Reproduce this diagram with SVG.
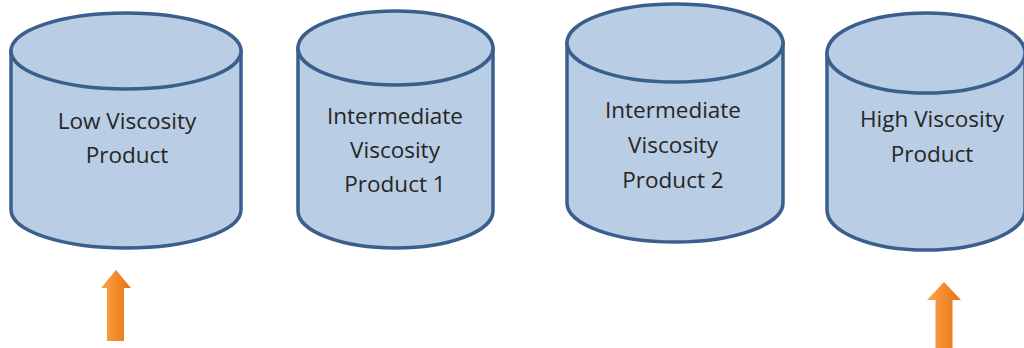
<svg xmlns="http://www.w3.org/2000/svg" width="1024" height="348" viewBox="0 0 1024 348">
<defs>
<linearGradient id="og" x1="0" y1="0" x2="1" y2="0">
<stop offset="0" stop-color="#f9a656"/>
<stop offset="0.5" stop-color="#f38b2a"/>
<stop offset="1" stop-color="#e2741a"/>
</linearGradient>
</defs>
<style>
.body{fill:#b9cde5;stroke:#3a5f8c;stroke-width:3.5}
.top{fill:#b9cde5;stroke:#3a5f8c;stroke-width:3.5}
.lbl{font-family:"Open Sans",Lato,"Liberation Sans",sans-serif;font-size:22.5px;fill:#262626;text-anchor:middle}
.arrow{fill:url(#og)}
</style>
<rect width="1024" height="348" fill="#ffffff"/>
<g id="low">
<path class="body" d="M11,51 L11,210 A115,38 0 0 0 241,210 L241,51 Z"/>
<ellipse class="top" cx="126" cy="51" rx="115" ry="38"/>
<text class="lbl" x="127" y="129">Low Viscosity</text>
<text class="lbl" x="127" y="163">Product</text>
</g>
<g id="inter1">
<path class="body" d="M298,48 L298,211 A97.5,37 0 0 0 493,211 L493,48 Z"/>
<ellipse class="top" cx="395.5" cy="48" rx="97.5" ry="37"/>
<text class="lbl" x="395" y="124">Intermediate</text>
<text class="lbl" x="395" y="158">Viscosity</text>
<text class="lbl" x="395" y="192">Product 1</text>
</g>
<g id="inter2">
<path class="body" d="M567,43 L567,203 A108,39 0 0 0 783,203 L783,43 Z"/>
<ellipse class="top" cx="675" cy="43" rx="108" ry="39"/>
<text class="lbl" x="673" y="118">Intermediate</text>
<text class="lbl" x="673" y="153">Viscosity</text>
<text class="lbl" x="673" y="188">Product 2</text>
</g>
<g id="high">
<path class="body" d="M827,53 L827,210 A99,40 0 0 0 1025,210 L1025,53 Z"/>
<ellipse class="top" cx="926" cy="53" rx="99" ry="40"/>
<text class="lbl" x="932" y="127">High Viscosity</text>
<text class="lbl" x="932" y="162">Product</text>
</g>
<g id="connectors">
<path class="arrow" d="M116,270 L131,288 L124,288 L124,341 L107,341 L107,288 L101,288 Z"/>
<path class="arrow" d="M944,282 L961,300 L952.5,300 L952.5,348 L935.5,348 L935.5,300 L927,300 Z"/>
</g>
</svg>
